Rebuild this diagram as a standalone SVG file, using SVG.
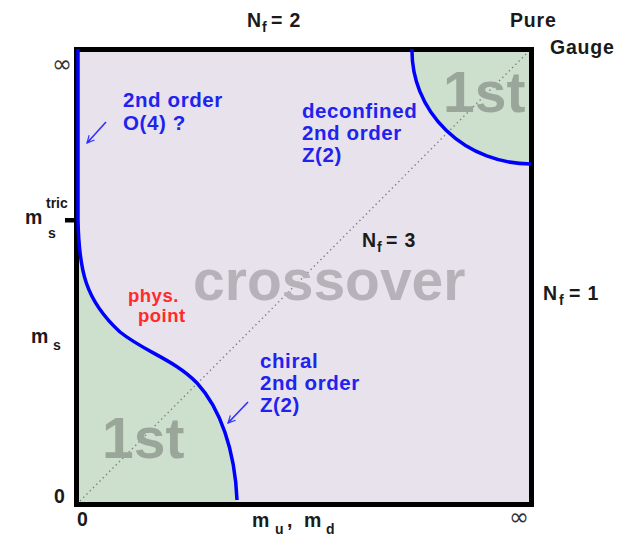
<svg xmlns="http://www.w3.org/2000/svg" width="625" height="541" viewBox="0 0 625 541">
<defs>
<style>
.lbl{font-family:"Liberation Sans",Arial,sans-serif;font-weight:bold;fill:#1a1a1a;font-size:19.5px;letter-spacing:0.8px}
.sub{font-size:14px;letter-spacing:0}
.blu{font-family:"Liberation Sans",Arial,sans-serif;font-weight:bold;fill:#2222ee;font-size:20.5px;letter-spacing:0.6px}
.red{font-family:"Liberation Sans",Arial,sans-serif;font-weight:bold;fill:#ff2a2a;font-size:18.5px;letter-spacing:0.5px}
.big{font-family:"Liberation Sans",Arial,sans-serif;font-weight:bold;font-size:57px}
.inf{font-family:"DejaVu Sans",sans-serif;font-size:24px;fill:#333}
.bl{fill:none;stroke:#0000ff;stroke-width:3.5}
.arr{fill:none;stroke:#3030ff;stroke-width:1.6}
</style>
<marker id="ah" viewBox="0 0 10 10" refX="9" refY="5" markerWidth="9" markerHeight="9" orient="auto" markerUnits="userSpaceOnUse">
<path d="M1,1 L9,5 L1,9 M3,5 L9,5" fill="none" stroke="#3030ff" stroke-width="1.3"/>
</marker>
</defs>
<rect width="625" height="541" fill="#ffffff"/>
<g id="plot">
<rect x="76.5" y="49.5" width="455" height="455" fill="#e8e2ec"/>
<path d="M78,220 C79,270 85,300 120,332 C145,352 175,360 197,383 C220,408 235,450 237,502 L78,502 Z" fill="#cde0cd"/>
<path d="M412,50 A119,113 0 0 0 531,164 L531,50 Z" fill="#cde0cd"/>
<line x1="80" y1="501" x2="528" y2="52" stroke="#808080" stroke-width="1.4" stroke-dasharray="1.4,3.2"/>
<text class="big" x="193" y="300" fill="#b7b2b9" font-size="56">crossover</text>
<text class="big" x="102" y="458" fill="#9aa69a">1st</text>
<text class="big" x="443" y="112" fill="#9aa69a">1st</text>
<rect x="76.5" y="49.5" width="455" height="455" fill="none" stroke="#000" stroke-width="5"/>
<rect x="65" y="218" width="11" height="4.5" fill="#000"/>
</g>
<g id="connectors">
<path class="bl" d="M78,49 L78,220 C79,270 85,300 120,332 C145,352 175,360 197,383 C220,408 235,450 237,500"/>
<path class="bl" d="M412,49 A119,113 0 0 0 531,164"/>
<line class="arr" x1="106" y1="122" x2="87" y2="143" marker-end="url(#ah)"/>
<line class="arr" x1="248" y1="402" x2="228" y2="423" marker-end="url(#ah)"/>
</g>
<g id="label-nf2"><text class="lbl" x="247" y="27">N</text><text class="lbl sub" x="262" y="32">f</text><text class="lbl" x="271" y="27">= 2</text></g>
<g id="label-pure"><text class="lbl" x="510" y="27">Pure</text><text class="lbl" x="550" y="54">Gauge</text></g>
<g id="label-nf3"><text class="lbl" x="362" y="247">N</text><text class="lbl sub" x="377" y="252">f</text><text class="lbl" x="386" y="247">= 3</text></g>
<g id="label-nf1"><text class="lbl" x="543" y="300">N</text><text class="lbl sub" x="559" y="305">f</text><text class="lbl" x="569" y="300">= 1</text></g>
<g id="label-o4"><text class="blu" x="123" y="107">2nd order</text><text class="blu" x="123" y="130">O(4) ?</text></g>
<g id="label-deconf"><text class="blu" x="302" y="118">deconfined</text><text class="blu" x="302" y="140">2nd order</text><text class="blu" x="302" y="162">Z(2)</text></g>
<g id="label-chiral"><text class="blu" x="260" y="368">chiral</text><text class="blu" x="260" y="390">2nd order</text><text class="blu" x="260" y="412">Z(2)</text></g>
<g id="label-phys"><text class="red" x="128" y="302">phys.</text><text class="red" x="138" y="322">point</text></g>
<g id="axis-left">
<text class="inf" x="52" y="72">∞</text>
<text class="lbl" x="25" y="224">m</text><text class="lbl sub" x="46" y="208">tric</text><text class="lbl sub" x="48" y="238">s</text>
<text class="lbl" x="31" y="343">m</text><text class="lbl sub" x="53" y="350">s</text>
<text class="lbl" x="54" y="503">0</text>
</g>
<g id="axis-bottom">
<text class="lbl" x="77" y="526">0</text>
<text class="lbl" x="252" y="527">m</text><text class="lbl sub" x="275" y="534">u</text><text class="lbl" x="287" y="527">,</text><text class="lbl" x="304" y="527">m</text><text class="lbl sub" x="326" y="534">d</text>
<text class="inf" x="509" y="525">∞</text>
</g>
</svg>
